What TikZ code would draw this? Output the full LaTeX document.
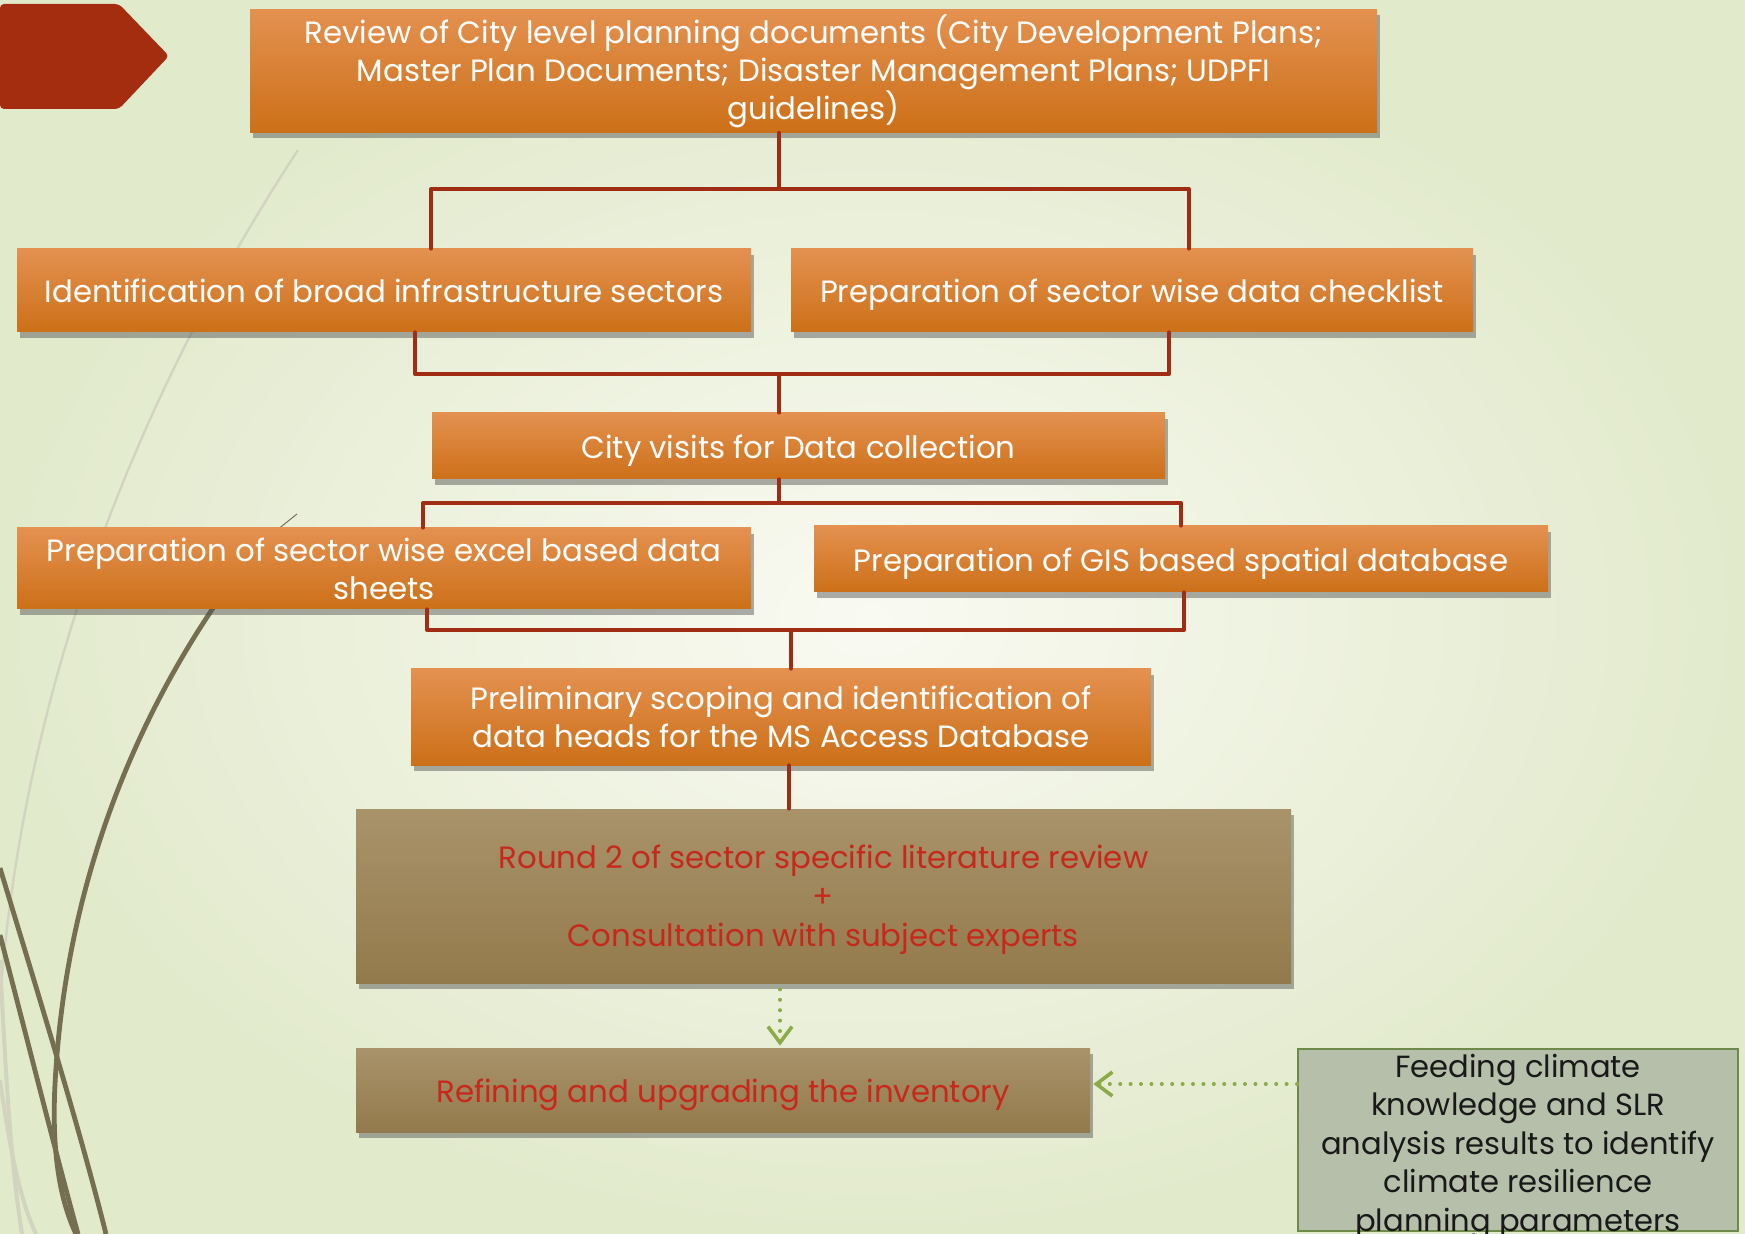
\documentclass[tikz,border=0pt]{standalone}
\usepackage{fontspec}
\setmainfont{Poppins}
\usetikzlibrary{shadows,arrows.meta,calc}
\definecolor{bgin}{RGB}{249,250,242}
\definecolor{bgout}{RGB}{226,234,204}
\definecolor{otop}{RGB}{228,145,80}
\definecolor{obot}{RGB}{204,112,24}
\definecolor{btop}{RGB}{169,147,106}
\definecolor{bbot}{RGB}{147,122,76}
\definecolor{conncol}{RGB}{160,44,20}
\definecolor{redtxt}{RGB}{200,40,28}
\definecolor{gfill}{RGB}{181,191,170}
\definecolor{gline}{RGB}{110,138,74}
\definecolor{arrgreen}{RGB}{140,170,72}
\definecolor{darkcurve}{RGB}{118,110,80}
\definecolor{lightcurve}{RGB}{210,212,192}
\definecolor{tabred}{RGB}{165,45,15}
\newcommand\toppad[1]{\rule{0pt}{#1}}
\tikzset{
  boxshadow/.style={drop shadow={shadow xshift=1.5pt,shadow yshift=-3pt,opacity=0.45,fill=black!70}},
  obox/.style={boxshadow,top color=otop,bottom color=obot,text=white,inner sep=0pt,align=center,
    font=\fontsize{15.4}{19}\selectfont},
  oneline/.style={text height=16pt,text depth=3.6pt},
  bbox/.style={boxshadow,top color=btop,bottom color=bbot,text=redtxt,inner sep=0pt,align=center,
    font=\fontsize{15.4}{19.5}\selectfont},
  gbox/.style={fill=gfill,draw=gline,line width=1pt,text=black!90,inner sep=0pt,align=center,
    font=\fontsize{15.3}{19.25}\selectfont},
  conn/.style={draw=conncol,line width=2pt,line cap=round,line join=round},
  dotarrow/.style={draw=arrgreen,line width=2pt,line cap=round,dash pattern=on 0pt off 5.2pt,
    -{Straight Barb[length=8pt,width=12pt,line width=1.8pt]}},
}
\begin{document}
\begin{tikzpicture}[x=0.5pt,y=-0.5pt]
\useasboundingbox (0,0) rectangle (1745,1234);
\shade[inner color=bgin,outer color=bgout] (0,0) rectangle (1745,1234);
\clip (0,0) rectangle (1745,1234);
% decorative curves
\draw[lightcurve,line width=1.2pt] (298,150) .. controls (200,300) and (30,600) .. (0,1000);
\draw[lightcurve,line width=2pt] (0,960) .. controls (5,1060) and (10,1160) .. (22,1234);
\draw[lightcurve,line width=2pt] (0,1080) .. controls (10,1150) and (20,1200) .. (36,1234);
\draw[darkcurve,line width=0.5pt] (297,514) -- (262,542);
\draw[darkcurve,line width=2.4pt] (262,542) .. controls (150,680) and (70,860) .. (56,1068)
  .. controls (50,1150) and (60,1200) .. (76,1234);
\draw[darkcurve,line width=2.4pt] (0,868) .. controls (40,1000) and (80,1130) .. (106,1234);
\draw[darkcurve,line width=2.4pt] (0,935) .. controls (30,1050) and (55,1150) .. (78,1234);
% tab
\fill[tabred,rounded corners=2pt] (0,4) -- (119,4) -- (169,56) -- (119,109) -- (0,109) -- cycle;
% boxes
\node[obox,minimum width=563.5pt,minimum height=61.5pt] (top) at (813.5,71)
  {\toppad{13.5pt}Review of City level planning documents (City Development Plans;\\Master Plan Documents; Disaster Management Plans; UDPFI\\guidelines)};
\node[obox,oneline,minimum width=367pt,minimum height=41.5pt] (boxA) at (384,290.5)
  {Identification of broad infrastructure sectors};
\node[obox,oneline,minimum width=341pt,minimum height=41.5pt] (boxB) at (1132,290.5)
  {Preparation of sector wise data checklist};
\node[obox,oneline,minimum width=366.5pt,minimum height=33pt] (boxC) at (798.5,446)
  {City visits for Data collection};
\node[obox,minimum width=367pt,minimum height=40.5pt] (boxD) at (384,568.5)
  {Preparation of sector wise excel based data\\sheets};
\node[obox,oneline,minimum width=367pt,minimum height=33pt] (boxE) at (1181,559)
  {Preparation of GIS based spatial database};
\node[obox,minimum width=370pt,minimum height=48pt] (boxF) at (781,717)
  {Preliminary scoping and identification of\\data heads for the MS Access Database};
\node[bbox,minimum width=467.5pt,minimum height=87pt] (boxG) at (823.5,896)
  {\toppad{16pt}Round 2 of sector specific literature review\\+\\Consultation with subject experts};
\node[bbox,oneline,minimum width=367pt,minimum height=42pt] (boxH) at (723,1090)
  {Refining and upgrading the inventory};
\node[gbox,anchor=north,minimum width=220pt,text depth=0pt] (boxI) at (1518,1048)
  {\toppad{14pt}Feeding climate\\knowledge and SLR\\analysis results to identify\\climate resilience\\planning parameters};
% connectors
\coordinate (b1) at (779,189); \coordinate (b1l) at (431,189); \coordinate (b1r) at (1189,189);
\draw[conn] (top.south -| b1) -- (b1);
\draw[conn] (boxA.north -| b1l) -- (b1l) -- (b1r) -- (boxB.north -| b1r);
\coordinate (b2) at (779,374); \coordinate (b2l) at (415,374); \coordinate (b2r) at (1169,374);
\draw[conn] (boxA.south -| b2l) -- (b2l) -- (b2r) -- (boxB.south -| b2r);
\draw[conn] (b2) -- (boxC.north -| b2);
\coordinate (b3) at (779,503); \coordinate (b3l) at (423,503); \coordinate (b3r) at (1181,503);
\draw[conn] (boxC.south -| b3) -- (b3);
\draw[conn] (boxD.north -| b3l) -- (b3l) -- (b3r) -- (boxE.north -| b3r);
\coordinate (b4) at (791,630); \coordinate (b4l) at (427,630); \coordinate (b4r) at (1184,630);
\draw[conn] (boxD.south -| b4l) -- (b4l) -- (b4r) -- (boxE.south -| b4r);
\draw[conn] (b4) -- (boxF.north -| b4);
\coordinate (b5) at (789,700);
\draw[conn] (boxF.south -| b5) -- (boxG.north -| b5);
\coordinate (b6) at (780,1000);
\coordinate (b7) at (1300,1084);
\draw[dotarrow] ($(boxG.south -| b6)+(0,6)$) -- ($(boxH.north -| b6)+(0,-2)$);
\draw[dotarrow] (boxI.west |- b7) -- ($(boxH.east |- b7)+(3,0)$);
\end{tikzpicture}
\end{document}
